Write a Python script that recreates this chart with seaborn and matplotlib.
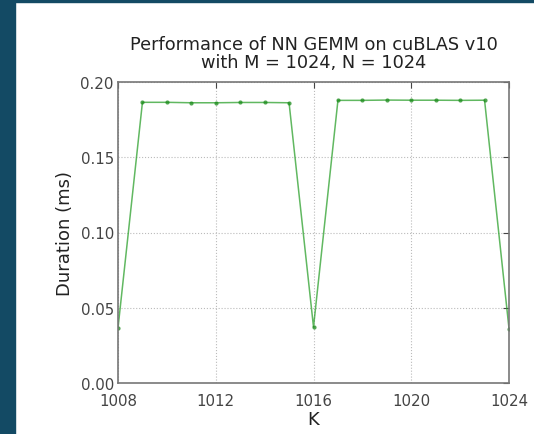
import numpy as np
import pandas as pd
import matplotlib
matplotlib.use("Agg")
import matplotlib.pyplot as plt
import seaborn as sns

# K values and measured GEMM durations (ms)
k_values = [1008, 1009, 1010, 1011, 1012, 1013, 1014, 1015, 1016,
            1017, 1018, 1019, 1020, 1021, 1022, 1023, 1024]
duration_ms = [0.0365, 0.1865, 0.1865, 0.1862, 0.1862, 0.1864, 0.1864, 0.1862, 0.0372,
               0.1878, 0.1878, 0.1880, 0.1879, 0.1879, 0.1878, 0.1879, 0.0362]
x_ticks = [1008, 1012, 1016, 1020, 1024]
y_ticks = [0.00, 0.05, 0.10, 0.15, 0.20]

df = pd.DataFrame({"K": k_values, "Duration": duration_ms})

sns.set_style("white")
plt.rcParams["font.family"] = ["DejaVu Sans"]

fig = plt.figure(figsize=(5.34, 4.35), dpi=100)
fig.patch.set_facecolor("white")
# dark page frame behind the picture (left and top strips)
fig.patches.append(plt.Rectangle((0, 0), 15 / 534, 1, transform=fig.transFigure,
                                 color="#134a64", zorder=0))
fig.patches.append(plt.Rectangle((0, 1 - 3 / 435), 1, 3 / 435, transform=fig.transFigure,
                                 color="#134a64", zorder=0))

ax = fig.add_axes([118 / 534, 1 - 384 / 435, (509 - 118) / 534, (384 - 83) / 435])

sns.lineplot(data=df, x="K", y="Duration", ax=ax, color="#2ca02c", alpha=0.75,
             linewidth=1.1, marker="o", markersize=3, markeredgewidth=0,
             markerfacecolor="#1a8a1a")

ax.set_xlim(1008, 1024)
ax.set_ylim(0, 0.20)
ax.set_xticks(x_ticks)
ax.set_yticks(y_ticks)
ax.set_yticklabels([f"{v:.2f}" for v in y_ticks])
ax.tick_params(direction="in", length=4, width=0.8, colors="#444444",
               labelsize=10.8, top=True, right=True, pad=3)
ax.tick_params(axis="x", pad=7)
ax.grid(True, linestyle=":", color="#bbbbbb", linewidth=0.8)
for s in ax.spines.values():
    s.set_color("#777777")
    s.set_linewidth(1.2)

ax.set_xlabel("K", fontsize=13, labelpad=2, color="#222222")
ax.set_ylabel("Duration (ms)", fontsize=13, labelpad=5, color="#222222")
ax.set_title("Performance of NN GEMM on cuBLAS v10\nwith M = 1024, N = 1024",
             fontsize=12.8, pad=11, linespacing=1.0, color="#222222")

fig.savefig("out.png", dpi=100, facecolor=fig.get_facecolor())
